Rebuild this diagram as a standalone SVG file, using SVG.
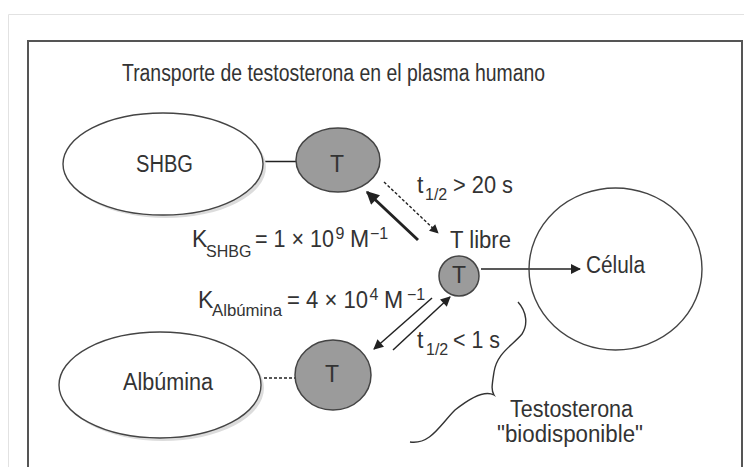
<svg xmlns="http://www.w3.org/2000/svg" width="744" height="467" viewBox="0 0 744 467">
<defs>
<style>
text{font-family:"Liberation Sans",Arial,sans-serif;fill:#333;font-size:23px}
.sub{font-size:16px}
.big{stroke:#444;stroke-width:1.4;fill:#fff}
.shadow{fill:#dcdcdc;stroke:none}
.t{fill:#9b9b9b;stroke:#444;stroke-width:1.5}
.ln{stroke:#222;fill:none}
</style>
<marker id="ah" viewBox="0 0 10 10" refX="9" refY="5" markerWidth="10" markerHeight="9" markerUnits="userSpaceOnUse" orient="auto"><path d="M0,0 L10,5 L0,10 z" fill="#222"/></marker>
<marker id="ahb" viewBox="0 0 10 10" refX="9" refY="5" markerWidth="15" markerHeight="13" markerUnits="userSpaceOnUse" orient="auto"><path d="M0,0 L10,5 L0,10 z" fill="#222"/></marker>
<marker id="ahm" viewBox="0 0 10 10" refX="9" refY="5" markerWidth="12" markerHeight="10" markerUnits="userSpaceOnUse" orient="auto"><path d="M0,0 L10,5 L0,10 z" fill="#222"/></marker>
</defs>
<rect x="0" y="0" width="744" height="467" fill="#fff"/>
<path d="M8.5,480 V14.5 H760" fill="none" stroke="#e2e2e2" stroke-width="1"/>
<path d="M28,480 V41 H742 V480" fill="none" stroke="#555" stroke-width="2"/>
<text x="122" y="81" font-size="25" textLength="423" lengthAdjust="spacingAndGlyphs">Transporte de testosterona en el plasma humano</text>

<g id="connectors">
<line class="ln" x1="263" y1="161.5" x2="296" y2="161.5" stroke-width="1.3"/>
<line class="ln" x1="264" y1="378" x2="295" y2="378" stroke-width="1.3" stroke-dasharray="3,2"/>
<line class="ln" x1="384" y1="182" x2="438" y2="233" stroke-width="1.4" stroke-dasharray="3,2" marker-end="url(#ah)"/>
<line class="ln" x1="418" y1="240" x2="367" y2="192" stroke-width="3" marker-end="url(#ahb)"/>
<line class="ln" x1="432" y1="298" x2="374" y2="349" stroke-width="1.5" marker-end="url(#ahm)"/>
<line class="ln" x1="393" y1="350" x2="450" y2="297" stroke-width="1.5" marker-end="url(#ahm)"/>
<line class="ln" x1="481" y1="269" x2="580" y2="269" stroke-width="1.4" marker-end="url(#ahm)"/>
</g>

<g id="shbg">
<ellipse class="shadow" cx="166" cy="167" rx="100" ry="51"/>
<ellipse class="big" cx="163" cy="164" rx="100" ry="51"/>
<text x="164.5" y="172" text-anchor="middle" font-size="24" textLength="57" lengthAdjust="spacingAndGlyphs">SHBG</text>
</g>
<g id="t-shbg">
<ellipse class="t" cx="338" cy="160" rx="42" ry="32"/>
<text x="337" y="172" text-anchor="middle">T</text>
</g>
<g id="albumina">
<ellipse class="shadow" cx="163" cy="388" rx="101" ry="53"/>
<ellipse class="big" cx="160" cy="385" rx="101" ry="53"/>
<text x="168" y="390" text-anchor="middle" font-size="24" textLength="90" lengthAdjust="spacingAndGlyphs">Albúmina</text>
</g>
<g id="t-alb">
<ellipse class="t" cx="333" cy="375" rx="38" ry="35"/>
<text x="332" y="382" text-anchor="middle">T</text>
</g>
<g id="t-libre">
<circle class="t" cx="459" cy="276" r="20"/>
<text x="459" y="283" text-anchor="middle" font-size="21">T</text>
<text x="450" y="248" textLength="61" lengthAdjust="spacingAndGlyphs">T libre</text>
</g>
<g id="celula">
<ellipse cx="615.5" cy="269" rx="86.5" ry="81" fill="none" stroke="#444" stroke-width="1.4"/>
<text x="586" y="273" textLength="59" lengthAdjust="spacingAndGlyphs">Célula</text>
</g>
<g id="labels">
<text y="193"><tspan x="417">t</tspan><tspan class="sub" x="425" y="200">1/2</tspan><tspan x="453" y="193" textLength="60" lengthAdjust="spacingAndGlyphs">&gt; 20 s</tspan></text>
<text y="247"><tspan x="192">K</tspan><tspan class="sub" x="206" y="257">SHBG</tspan><tspan x="255" y="247" textLength="79" lengthAdjust="spacingAndGlyphs">= 1 × 10</tspan><tspan class="sub" x="335.5" y="239">9</tspan><tspan x="350" y="247">M</tspan><tspan class="sub" x="370" y="239">−1</tspan></text>
<text y="308"><tspan x="198">K</tspan><tspan class="sub" x="212" y="316" textLength="70" lengthAdjust="spacingAndGlyphs">Albúmina</tspan><tspan x="287" y="308" textLength="81" lengthAdjust="spacingAndGlyphs">= 4 × 10</tspan><tspan class="sub" x="369.5" y="300">4</tspan><tspan x="384" y="308">M</tspan><tspan class="sub" x="407" y="300">−1</tspan></text>
<text y="348"><tspan x="417">t</tspan><tspan class="sub" x="426" y="355">1/2</tspan><tspan x="453" y="348" textLength="47" lengthAdjust="spacingAndGlyphs">&lt; 1 s</tspan></text>
</g>
<g id="biodisponible">
<path d="M518,302 C527,312 528,325 522,334 C512,346 497,353 494,372 C492,385 491,390 494,395 C485,390 470,398 455,410 C440,425 430,445 410,442" fill="none" stroke="#333" stroke-width="1.4"/>
<text x="571.5" y="417" text-anchor="middle" font-size="21" textLength="123" lengthAdjust="spacingAndGlyphs">Testosterona</text>
<text x="570" y="442" text-anchor="middle" font-size="21" textLength="146" lengthAdjust="spacingAndGlyphs">"biodisponible"</text>
</g>
</svg>
